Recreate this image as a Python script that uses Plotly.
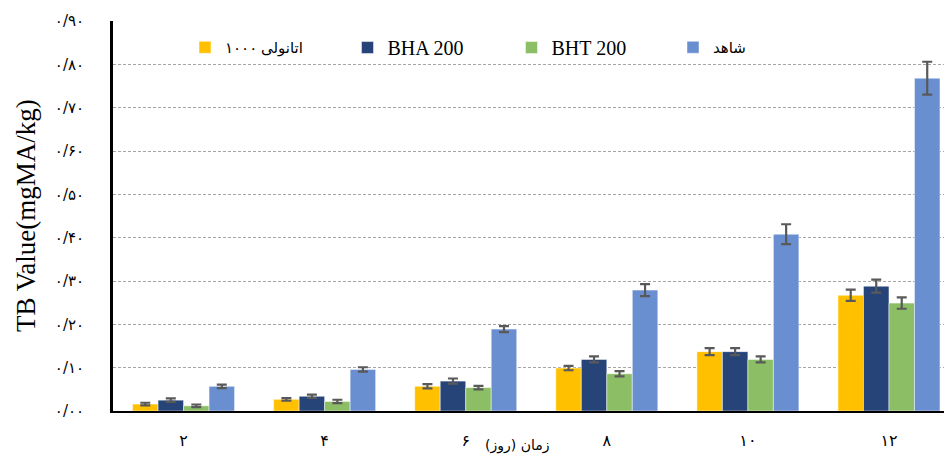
import plotly.graph_objects as go

days = ["۲", "۴", "۶", "۸", "۱۰", "۱۲"]
series_names = ["اتانولی ۱۰۰۰", "BHA 200", "BHT 200", "شاهد"]
ethanol = [0.016, 0.027, 0.057, 0.099, 0.137, 0.267]
bha = [0.025, 0.034, 0.069, 0.119, 0.137, 0.288]
bht = [0.012, 0.022, 0.054, 0.086, 0.119, 0.249]
control = [0.057, 0.096, 0.189, 0.279, 0.408, 0.768]
ethanol_err = [0.003, 0.003, 0.005, 0.005, 0.008, 0.013]
bha_err = [0.004, 0.004, 0.006, 0.007, 0.008, 0.015]
bht_err = [0.003, 0.004, 0.004, 0.006, 0.007, 0.013]
control_err = [0.004, 0.005, 0.007, 0.014, 0.023, 0.038]
y_tickvals = [0.0, 0.1, 0.2, 0.3, 0.4, 0.5, 0.6, 0.7, 0.8, 0.9]
y_ticktext = ["۰/۰۰", "۰/۱۰", "۰/۲۰", "۰/۳۰", "۰/۴۰", "۰/۵۰", "۰/۶۰", "۰/۷۰", "۰/۸۰", "۰/۹۰"]
y_title = "TB Value(mgMA/kg)"
x_title = "زمان (روز)"

colors = ["#FFC000", "#264478", "#8CBF65", "#6A8FD1"]
values = [ethanol, bha, bht, control]
errors = [ethanol_err, bha_err, bht_err, control_err]
legend_ids = ["legend", "legend2", "legend3", "legend4"]
legend_sizes = [15, 20, 20, 15]

W, H = 944, 455
ML, MR, MT, MB = 113, 0, 21, 44
pw = W - ML - MR

fig = go.Figure()
for name, vals, errs, col, lg in zip(series_names, values, errors, colors, legend_ids):
    fig.add_trace(go.Bar(
        x=list(range(len(days))), y=vals, name=name, legend=lg,
        marker=dict(color=col, line=dict(color="rgba(255,255,255,0.8)", width=0.6)),
        error_y=dict(type="data", array=errs, visible=True, color="#595959",
                     thickness=2.2, width=5),
    ))

legend_marker_px = [210, 372.5, 536.5, 698]
layout_legends = {}
for lg, mx, fs in zip(legend_ids, legend_marker_px, legend_sizes):
    layout_legends[lg] = dict(
        x=(mx - 25 - ML) / pw, y=0.932, xanchor="left", yanchor="middle",
        orientation="h", bgcolor="rgba(0,0,0,0)",
        font=dict(family="Liberation Serif, DejaVu Sans", size=fs, color="#000"),
        itemwidth=30,
    )

fig.update_layout(
    width=W, height=H,
    margin=dict(l=ML, r=MR, t=MT, b=MB),
    paper_bgcolor="white", plot_bgcolor="white",
    barmode="group", bargap=0.277, bargroupgap=0,
    showlegend=True,
    **layout_legends,
)
fig.update_xaxes(
    range=[-0.5, 5.39], tickmode="array", tickvals=list(range(len(days))), ticktext=days,
    showline=True, linecolor="#000", linewidth=2.2, showgrid=False, zeroline=False,
    ticks="", ticklabelstandoff=14,
    tickfont=dict(family="DejaVu Sans", size=16, color="#000"),
)
fig.update_yaxes(
    range=[0, 0.9], tickmode="array", tickvals=y_tickvals, ticktext=y_ticktext,
    showline=True, linecolor="#000", linewidth=2.8, showgrid=True,
    gridcolor="#A6A6A6", gridwidth=1, griddash="3px,2px", zeroline=False,
    ticks="", ticklabelstandoff=23,
    tickfont=dict(family="DejaVu Sans", size=15, color="#000"),
)
fig.add_annotation(
    text=y_title, textangle=-90, xref="paper", yref="paper", x=0, y=0.5,
    xanchor="center", yanchor="middle", xshift=-(ML - 26), showarrow=False,
    font=dict(family="Liberation Serif", size=27, color="#000"),
)
fig.add_annotation(
    text=x_title, xref="paper", yref="paper", x=(517 - ML) / pw, y=0,
    xanchor="center", yanchor="middle", yshift=-34, showarrow=False,
    font=dict(family="DejaVu Sans", size=14, color="#000"),
)
fig.write_html("out.html", config={"displayModeBar": False},
               post_script="document.body.style.margin='0';")
